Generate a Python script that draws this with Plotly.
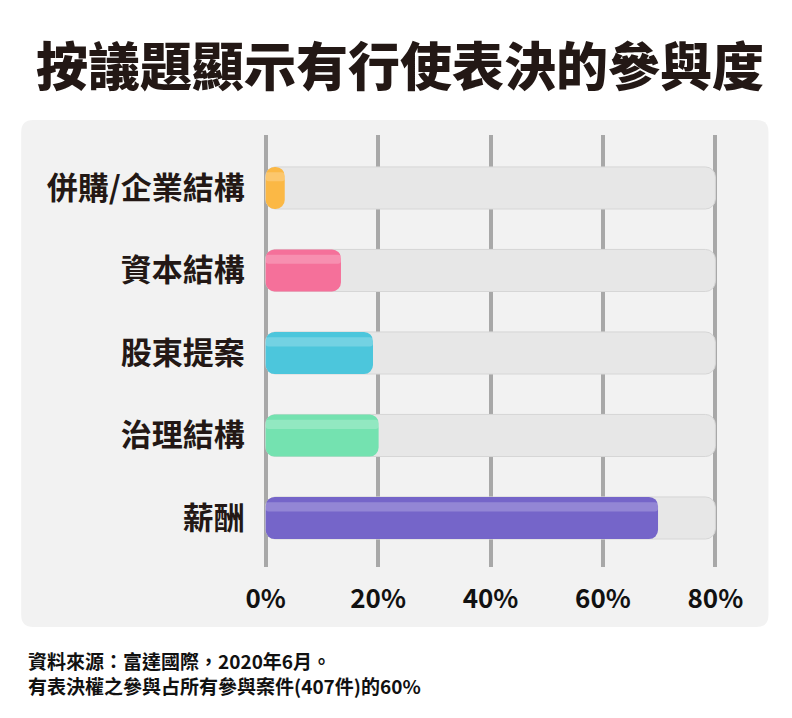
import plotly.graph_objects as go

# Data
categories = ["併購/企業結構", "資本結構", "股東提案", "治理結構", "薪酬"]
values = [3.4, 13.4, 19.1, 20.1, 69.8]
track_max = [80, 80, 80, 80, 80]
bar_colors = ["#fbb845", "#f5709a", "#4cc6dc", "#74e2b0", "#7565c9"]
tick_vals = [0, 20, 40, 60, 80]
tick_text = ["0%", "20%", "40%", "60%", "80%"]

title_text = "按議題顯示有行使表決的參與度"
note_lines = ["資料來源：富達國際，2020年6月。",
              "有表決權之參與占所有參與案件(407件)的60%"]

FONT = "Noto Sans CJK TC"
INK = "#231815"

# the page body adds an 8px margin, so work in page pixels and shift
OFF = 8
W, H = 792 - OFF, 718 - OFF
X_LO, X_HI = -1, 81
PX0, PX80 = 266, 715                      # page pixels of 0% and 80%
ppu = (PX80 - PX0) / 80
L = PX0 - OFF + X_LO * ppu
PW = (X_HI - X_LO) * ppu
R = W - L - PW
T = 135 - OFF
B = H - (567 - OFF)

zeros = [0] * len(categories)

fig = go.Figure()

# grey track behind every bar (explicit base makes plotly round both ends)
fig.add_trace(go.Bar(
    y=categories, x=track_max, base=zeros, orientation="h",
    marker=dict(color="#e7e7e7", line=dict(color="#d6d6d6", width=1),
                cornerradius=10),
    width=0.51, hoverinfo="skip", showlegend=False,
))

# actual values
fig.add_trace(go.Bar(
    y=categories, x=values, base=zeros, orientation="h",
    marker=dict(color=bar_colors, line_width=0, cornerradius=9),
    width=0.51, showlegend=False,
    hovertemplate="%{y}: %{x}%<extra></extra>",
))

# soft glossy streak along the top of each bar
fig.add_trace(go.Bar(
    y=categories, x=values, base=zeros, orientation="h",
    marker=dict(color="rgba(255,255,255,0.22)", line_width=0, cornerradius=3),
    width=0.11, offset=-0.19, hoverinfo="skip", showlegend=False,
))


def px(xp):
    return (xp - OFF - L) / PW


def py(yp):
    return 1 - (yp - OFF - T) / (H - T - B)


# rounded light panel behind the plot
x0, x1, y0, y1, rad = 22, 768, 120, 627, 12
panel = (
    f"M {px(x0 + rad)},{py(y0)} L {px(x1 - rad)},{py(y0)} "
    f"Q {px(x1)},{py(y0)} {px(x1)},{py(y0 + rad)} "
    f"L {px(x1)},{py(y1 - rad)} Q {px(x1)},{py(y1)} {px(x1 - rad)},{py(y1)} "
    f"L {px(x0 + rad)},{py(y1)} Q {px(x0)},{py(y1)} {px(x0)},{py(y1 - rad)} "
    f"L {px(x0)},{py(y0 + rad)} Q {px(x0)},{py(y0)} {px(x0 + rad)},{py(y0)} Z"
)
fig.add_shape(type="path", path=panel, xref="paper", yref="paper",
              fillcolor="#f2f2f2", line_width=0, layer="below")

fig.update_layout(
    width=W, height=H,
    margin=dict(l=L, r=R, t=T, b=B, autoexpand=False),
    paper_bgcolor="white",
    plot_bgcolor="rgba(0,0,0,0)",
    barmode="overlay",
    font=dict(family=FONT, color=INK),
    title=dict(
        text=title_text, x=0.5, xref="container", xanchor="center",
        y=1 - (68 - OFF) / H, yanchor="middle",
        font=dict(family=FONT, size=52, weight=900, color=INK),
    ),
)

fig.update_xaxes(
    range=[X_LO, X_HI], tickvals=tick_vals, ticktext=tick_text,
    showgrid=True, gridcolor="#a8a8a8", gridwidth=3.5,
    zeroline=False, showline=False,
    ticks="outside", ticklen=9, tickcolor="rgba(0,0,0,0)",
    tickfont=dict(family=FONT, size=26, weight="bold", color="#111111"),
    fixedrange=True,
)
fig.update_yaxes(
    range=[4.594, -0.642], showgrid=False, zeroline=False, showline=False,
    ticks="outside", ticklen=8, tickcolor="rgba(0,0,0,0)",
    tickfont=dict(family=FONT, size=31, weight="bold", color=INK),
    fixedrange=True,
)

fig.add_annotation(
    text="<br>".join(note_lines), xref="paper", yref="paper",
    x=px(27), y=py(645), xanchor="left", yanchor="top", align="left",
    showarrow=False,
    font=dict(family=FONT, size=19, weight="bold", color="#111111"),
)

fig.write_html("out.html")
